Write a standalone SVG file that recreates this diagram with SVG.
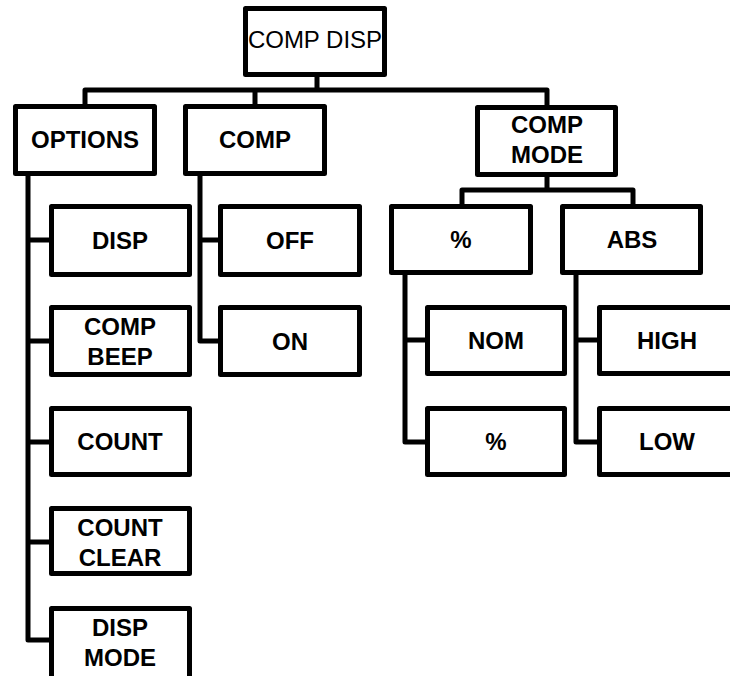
<svg xmlns="http://www.w3.org/2000/svg" width="730" height="676" viewBox="0 0 730 676">
<style>
.box{fill:#fff;stroke:#000;stroke-width:5;stroke-linejoin:round}
.t{font-family:"Liberation Sans",Arial,sans-serif;font-size:24px;font-weight:bold;text-anchor:middle;fill:#000}
.tr{font-family:"Liberation Sans",Arial,sans-serif;font-size:24px;text-anchor:middle;fill:#000}
.c{fill:none;stroke:#000;stroke-width:5;stroke-linejoin:round;stroke-linecap:butt}
</style>
<rect width="730" height="676" fill="#fff"/>
<g id="connectors">
<path class="c" d="M317 77V90M85 104V90H547V105M255 90V104"/>
<path class="c" d="M28 176V640H49M28 240H49M28 341H49M28 442H49M28 542H49"/>
<path class="c" d="M200 176V341H218M200 240H218"/>
<path class="c" d="M547 177V190M462 204V190H633V204"/>
<path class="c" d="M405 275V442H425M405 340H425"/>
<path class="c" d="M576 275V442H597M576 340H597"/>
</g>
<g id="comp-disp"><rect class="box" x="245.5" y="8.5" width="139" height="66"/><text class="tr" x="315" y="48">COMP DISP</text></g>
<g id="options"><rect class="box" x="15.5" y="106.5" width="139" height="67"/><text class="t" x="85" y="148">OPTIONS</text></g>
<g id="comp"><rect class="box" x="185.5" y="106.5" width="139" height="67"/><text class="t" x="255" y="148">COMP</text></g>
<g id="comp-mode"><rect class="box" x="477.5" y="107.5" width="138" height="67"/><text class="t" x="547" y="133">COMP</text><text class="t" x="547" y="163">MODE</text></g>
<g id="pct"><rect class="box" x="391.5" y="206.5" width="139" height="66"/><text class="t" x="461" y="248">%</text></g>
<g id="abs"><rect class="box" x="562.5" y="206.5" width="138" height="66"/><text class="t" x="632" y="248">ABS</text></g>
<g id="disp"><rect class="box" x="51.5" y="206.5" width="138" height="68"/><text class="t" x="120" y="249">DISP</text></g>
<g id="off"><rect class="box" x="220.5" y="206.5" width="139" height="68"/><text class="t" x="290" y="249">OFF</text></g>
<g id="comp-beep"><rect class="box" x="51.5" y="307.5" width="138" height="67"/><text class="t" x="120" y="335">COMP</text><text class="t" x="120" y="365">BEEP</text></g>
<g id="on"><rect class="box" x="220.5" y="307.5" width="139" height="67"/><text class="t" x="290" y="350">ON</text></g>
<g id="count"><rect class="box" x="51.5" y="408.5" width="138" height="66"/><text class="t" x="120" y="450">COUNT</text></g>
<g id="count-clear"><rect class="box" x="51.5" y="508.5" width="138" height="65"/><text class="t" x="120" y="536">COUNT</text><text class="t" x="120" y="566">CLEAR</text></g>
<g id="disp-mode"><rect class="box" x="51.5" y="608.5" width="138" height="70"/><text class="t" x="120" y="636">DISP</text><text class="t" x="120" y="666">MODE</text></g>
<g id="nom"><rect class="box" x="427.5" y="307.5" width="137" height="66"/><text class="t" x="496" y="349">NOM</text></g>
<g id="pct2"><rect class="box" x="427.5" y="408.5" width="137" height="66"/><text class="t" x="496" y="450">%</text></g>
<g id="high"><rect class="box" x="599.5" y="307.5" width="138" height="66"/><text class="t" x="667" y="349">HIGH</text></g>
<g id="low"><rect class="box" x="599.5" y="408.5" width="138" height="66"/><text class="t" x="667" y="450">LOW</text></g>
</svg>
